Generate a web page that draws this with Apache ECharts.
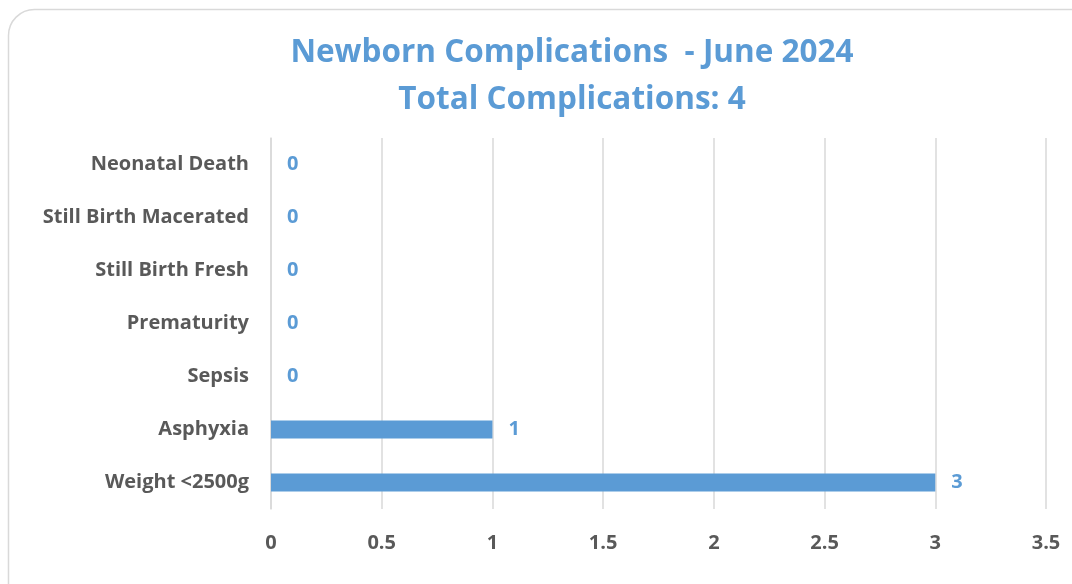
<!DOCTYPE html>
<html><head><meta charset="utf-8">
<script src="https://cdn.jsdelivr.net/npm/echarts@6/dist/echarts.min.js"></script>
<style>html,body{margin:0;padding:0;background:#fff}#c{width:1072px;height:584px}</style>
</head><body><div id="c"></div>
<script>
const categories = ["Weight <2500g","Asphyxia","Sepsis","Prematurity","Still Birth Fresh","Still Birth Macerated","Neonatal Death"];
const values = [3,1,0,0,0,0,0];
const titleLines = ["Newborn Complications  - June 2024","Total Complications: 4"];
const FONT = "'Open Sans', sans-serif";
const chart = echarts.init(document.getElementById('c'), null, {renderer:'canvas'});
chart.setOption({
  animation:false,
  backgroundColor:'#fff',
  graphic:[{type:'rect',shape:{x:8.5,y:9.5,width:1100,height:620,r:26},style:{fill:'none',stroke:'#d9d9d9',lineWidth:1.5},silent:true,z:-1}],
  title:{text:titleLines.join('\n'),left:567,textAlign:'center',top:25,
    textStyle:{color:'#5B9BD5',fontFamily:FONT,fontWeight:'bold',fontSize:31.5,lineHeight:47,align:'center'}},
  grid:{left:271,right:26,top:138,bottom:75,containLabel:false},
  xAxis:{type:'value',min:0,max:3.5,interval:0.5,
    axisLine:{show:false},axisTick:{show:false},
    splitLine:{show:true,lineStyle:{color:'#d9d9d9',width:1.5}},
    axisLabel:{color:'#595959',fontFamily:FONT,fontWeight:'bold',fontSize:20,margin:24}},
  yAxis:{type:'category',data:categories,
    axisLine:{show:true,lineStyle:{color:'#d9d9d9',width:1.5}},axisTick:{show:false},
    axisLabel:{color:'#595959',fontFamily:FONT,fontWeight:'bold',fontSize:20,margin:22,padding:[3,0,0,0]}},
  series:[{type:'bar',data:values,barWidth:18,
    itemStyle:{color:'#5B9BD5'},
    label:{show:true,position:'right',distance:16,color:'#5B9BD5',fontFamily:FONT,fontWeight:'bold',fontSize:20,padding:[3,0,0,0]}}]
});
</script></body></html>
